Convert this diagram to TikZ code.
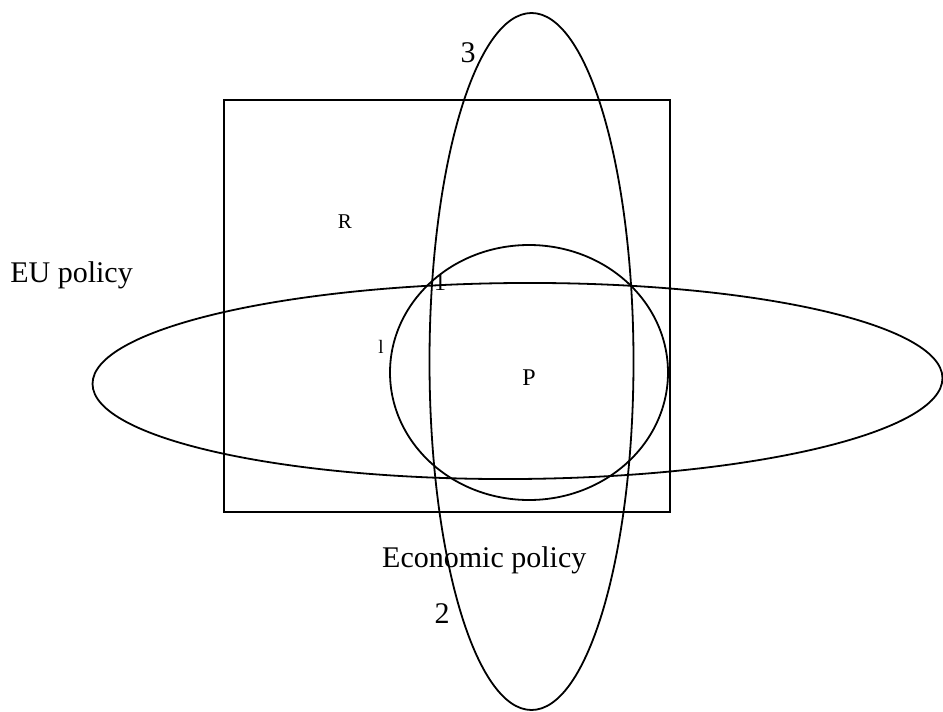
\documentclass[tikz,border=0pt]{standalone}
\usepackage{fontspec}
\setmainfont{Liberation Serif}
\begin{document}
\begin{tikzpicture}[x=1pt,y=-1pt,
  shapeline/.style={line width=1.8pt, black},
  lbl/.style={inner sep=0pt, font=\fontsize{30}{36}\selectfont},
  smalllbl/.style={inner sep=0pt, font=\fontsize{21}{25}\selectfont}]
\useasboundingbox (0,0) rectangle (943,712);
% rectangle
\draw[shapeline] (224,100) rectangle (670,512);
% horizontal ellipse (EU policy)
\draw[shapeline, rotate around={0.4:(517.5,381)}] (517.5,381) ellipse [x radius=425, y radius=98];
% vertical ellipse (Economic policy)
\draw[shapeline] (531.5,361.5) ellipse [x radius=102, y radius=348.5];
% circle P
\draw[shapeline] (529,372.5) ellipse [x radius=139, y radius=127.5];
% labels
\node[lbl, anchor=base] (three) at (468,62) {3};
\node[smalllbl, anchor=base] (R) at (345,228) {R};
\node[lbl, anchor=base east] (eu) at (133,282) {EU policy};
\node[inner sep=0pt, font=\fontsize{24}{28}\selectfont, anchor=base] (one) at (440,290) {1};
\node[inner sep=0pt, font=\fontsize{19}{23}\selectfont, anchor=base] (ell) at (381,353) {l};
\node[inner sep=0pt, font=\fontsize{24}{28}\selectfont, anchor=base] (P) at (529,385) {P};
\node[lbl, anchor=base west] (econ) at (382,567) {Economic policy};
\node[lbl, anchor=base] (two) at (442,623) {2};
\end{tikzpicture}
\end{document}
